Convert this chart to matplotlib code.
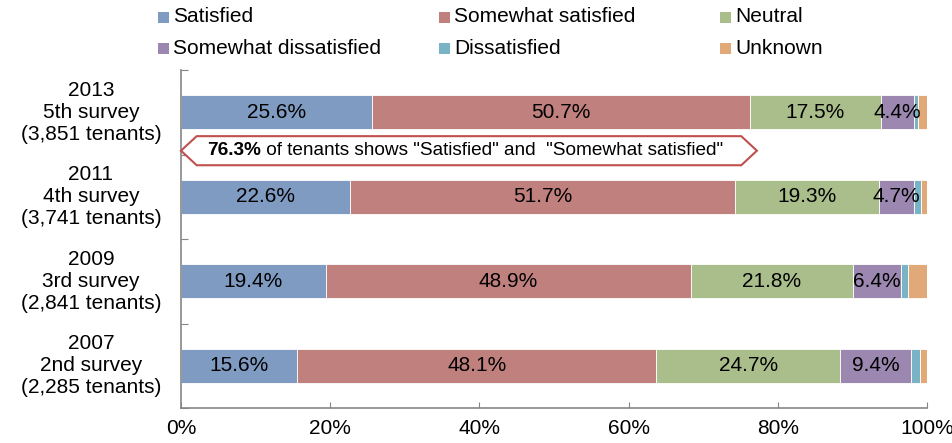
import matplotlib.pyplot as plt
from matplotlib.patches import Polygon, Rectangle
import numpy as np

plt.rcParams['font.family'] = ['Liberation Sans', 'DejaVu Sans']

# data
surveys = ['2007\n2nd survey\n(2,285 tenants)',
           '2009\n3rd survey\n(2,841 tenants)',
           '2011\n4th survey\n(3,741 tenants)',
           '2013\n5th survey\n(3,851 tenants)']
categories = ['Satisfied', 'Somewhat satisfied', 'Neutral',
              'Somewhat dissatisfied', 'Dissatisfied', 'Unknown']
satisfied = [15.6, 19.4, 22.6, 25.6]
somewhat_satisfied = [48.1, 48.9, 51.7, 50.7]
neutral = [24.7, 21.8, 19.3, 17.5]
somewhat_dissatisfied = [9.4, 6.4, 4.7, 4.4]
dissatisfied = [1.2, 0.9, 0.9, 0.6]
unknown = [1.0, 2.6, 0.8, 1.2]
labelled = 4  # first four segments carry value labels
callout_value = '76.3%'
callout_text = ' of tenants shows "Satisfied" and  "Somewhat satisfied"'

colors = ['#7F9BC2', '#C0807E', '#AABE8C', '#9B87AF', '#78B4C6', '#E1A878']
series = [satisfied, somewhat_satisfied, neutral, somewhat_dissatisfied,
          dissatisfied, unknown]

fig = plt.figure(figsize=(9.53, 4.43), dpi=100)
W, H = 953, 443
ax = fig.add_axes([181 / W, 1 - 408 / H, 746 / W, 338 / H])

y = np.arange(len(surveys))
left = np.zeros(len(surveys))
for i, (vals, c) in enumerate(zip(series, colors)):
    vals = np.array(vals)
    ax.barh(y, vals, left=left, height=0.4, color=c, edgecolor='white', linewidth=0.6)
    if i < labelled:
        for yy, l, v in zip(y, left, vals):
            ax.text(l + v / 2, yy, f'{v:.1f}%', ha='center', va='center', fontsize=15)
    left += vals

ax.set_xlim(0, 100)
ax.set_ylim(-0.5, 3.5)
ax.set_xticks(np.arange(0, 101, 20))
ax.set_xticklabels([f'{t}%' for t in range(0, 101, 20)], fontsize=15)
ax.set_yticks(np.arange(-0.5, 3.6, 1))
ax.set_yticklabels([])
ax.tick_params(axis='x', direction='in', length=4, color='#868686', pad=8)
ax.tick_params(axis='y', direction='in', length=5, color='#868686')
for s in ['top', 'right']:
    ax.spines[s].set_visible(False)
for s in ['left', 'bottom']:
    ax.spines[s].set_color('#868686')
    ax.spines[s].set_linewidth(1.2)

# category labels
trans = ax.get_yaxis_transform()
for yy, lab in zip(y, surveys):
    ax.text(-90 / 746, yy, lab, transform=trans, ha='center', va='center',
            fontsize=15, linespacing=1.2)

# callout arrow box
cy, hh, tip = 2.545, 0.172, 2.1
x0, x1 = 0, 77.2
poly = Polygon([(x0, cy), (x0 + tip, cy + hh), (x1 - tip, cy + hh), (x1, cy),
                (x1 - tip, cy - hh), (x0 + tip, cy - hh)], closed=True,
               facecolor='white', edgecolor='#C0504D', linewidth=1.5,
               clip_on=False, zorder=5)
ax.add_patch(poly)
t1 = ax.text(3.5, cy, callout_value, fontsize=13.7, fontweight='bold',
             ha='left', va='center', zorder=6)
ax.annotate(callout_text, xy=(1, 0.5), xycoords=t1, ha='left', va='center',
            fontsize=13.7, zorder=6)

# legend, three columns with equal width
col_x = [158, 439, 720]
row_y = [17, 48]
order = [0, 1, 2, 3, 4, 5]
for k in order:
    r, c = divmod(k, 3)
    xl, yc = col_x[c], row_y[r]
    fig.patches.append(Rectangle((xl / W, 1 - (yc + 5.5) / H), 11 / W, 11 / H,
                                 transform=fig.transFigure, facecolor=colors[k],
                                 edgecolor='none'))
    fig.text((xl + 15) / W, 1 - yc / H, categories[k], ha='left', va='center',
             fontsize=15)

fig.savefig('out.png', dpi=100)
